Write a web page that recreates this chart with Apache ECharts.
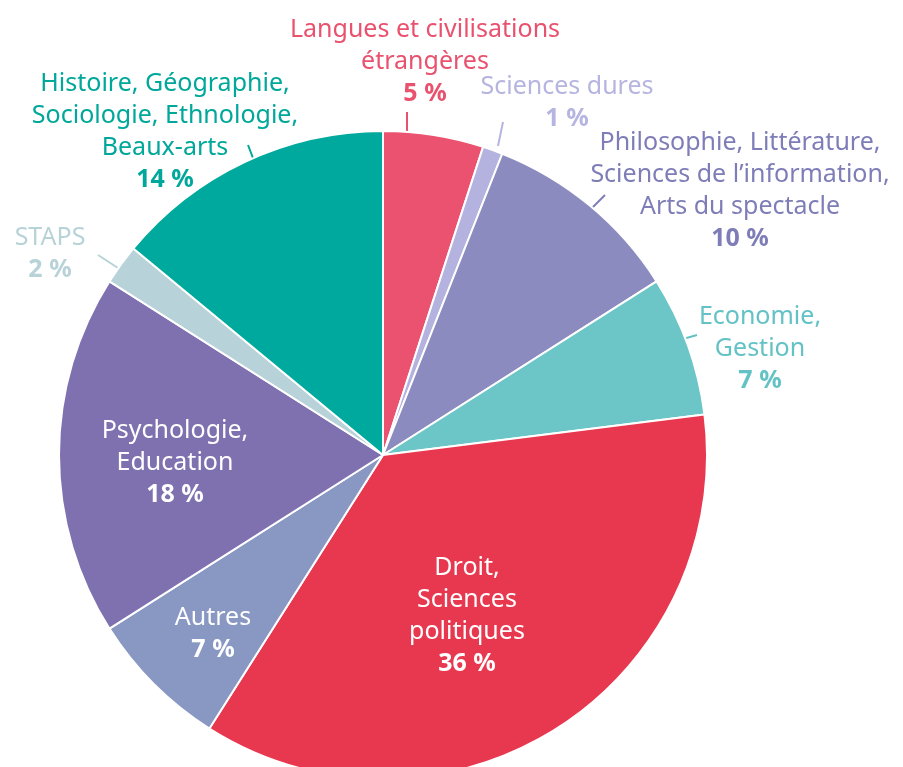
<!DOCTYPE html>
<html>
<head>
    <meta charset="utf-8">
    <title>Disciplines</title>
    <script src="https://cdn.jsdelivr.net/npm/echarts@6/dist/echarts.min.js"></script>
    <style type="text/css">
        html, body { margin: 0; padding: 0; background: #fff; }
        #chart { width: 903px; height: 767px; }
    </style>
</head>
<body>
<div id="chart"></div>
<script>
    // données
    var categories = [
        'Langues et civilisations\nétrangères',
        'Sciences dures',
        'Philosophie, Littérature,\nSciences de l\u2019information,\nArts du spectacle',
        'Economie,\nGestion',
        'Droit,\nSciences\npolitiques',
        'Autres',
        'Psychologie,\nEducation',
        'STAPS',
        'Histoire, Géographie,\nSociologie, Ethnologie,\nBeaux-arts'
    ];
    var values = [5, 1, 10, 7, 36, 7, 18, 2, 14];
    var insideLabels = [4, 5, 6];

    var sliceColors = ['#EA5270', '#B4B2DE', '#8C8BBF', '#6CC5C7', '#E8384F',
        '#8898C3', '#7F70B0', '#B8D2D9', '#00A99D'];
    var textColors = ['#E9526E', '#B6B4E0', '#7E7DB8', '#63C2C5', '#fff',
        '#fff', '#fff', '#B8D3D8', '#00A79B'];

    // position des étiquettes (centre) et petits traits
    var labelPos = [[425, 62], [567, 103], [740, 191], [760, 349], [467, 616],
        [213, 634], [175, 463], [50, 254], [165, 132]];
    var linePts = {
        0: [[407, 132], [407, 112]],
        1: [[498, 146], [503, 122]],
        2: [[590, 210], [605, 195]],
        3: [[683, 339], [697, 335]],
        7: [[118, 268], [98, 255]],
        8: [[253, 158], [248, 145]]
    };

    var data = categories.map(function (c, i) {
        var inside = insideLabels.indexOf(i) >= 0;
        return {
            name: c,
            value: values[i],
            itemStyle: {color: sliceColors[i]},
            label: {color: textColors[i]},
            labelLine: {show: !inside, lineStyle: {color: textColors[i], width: 2}}
        };
    });

    var chart = echarts.init(document.getElementById('chart'));
    var option = {
        animation: false,
        series: [{
            type: 'pie',
            center: [383, 455],
            radius: 324,
            startAngle: 90,
            clockwise: true,
            avoidLabelOverlap: false,
            itemStyle: {borderColor: '#fff', borderWidth: 2},
            emphasis: {disabled: true},
            label: {
                show: true,
                position: 'outside',
                fontFamily: 'Noto Sans',
                fontSize: 25,
                lineHeight: 32,
                align: 'center',
                formatter: function (p) {
                    return '{n|' + p.name.split('\n').join('}\n{n|') + '}\n{p|' + p.value + ' %}';
                },
                rich: {
                    n: {fontFamily: 'Noto Sans', fontSize: 25, lineHeight: 32, align: 'center'},
                    p: {fontFamily: 'Noto Sans', fontSize: 25, lineHeight: 32, fontWeight: 'bold', align: 'center'}
                }
            },
            labelLine: {show: true, length: 10, length2: 0},
            labelLayout: function (params) {
                var i = params.dataIndex;
                var out = {
                    x: labelPos[i][0],
                    y: labelPos[i][1],
                    align: 'center',
                    verticalAlign: 'middle'
                };
                if (linePts[i]) {
                    out.labelLinePoints = linePts[i];
                }
                return out;
            },
            data: data
        }]
    };
    chart.setOption(option);
</script>
</body>
</html>
